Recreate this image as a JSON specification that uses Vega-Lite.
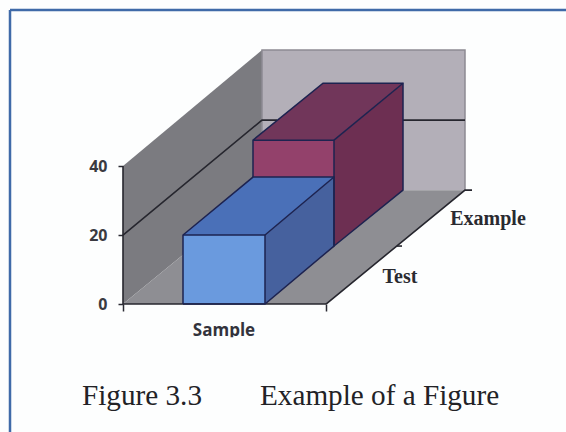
{"$schema":"https://vega.github.io/schema/vega-lite/v6.json","width":566,"height":432,"padding":0,"autosize":{"type":"none"},"background":"#fdfefe","view":{"stroke":null},
"config":{"axis":{"grid":false,"title":null}},
"datasets":{"faces":[
{"face":"left wall","o":1,"x":123,"y":40},{"face":"left wall","o":2,"x":262,"y":73.6},{"face":"left wall","o":3,"x":262,"y":33},{"face":"left wall","o":4,"x":123,"y":0},
{"face":"back wall","o":1,"x":262,"y":73.6},{"face":"back wall","o":2,"x":465,"y":73.6},{"face":"back wall","o":3,"x":465,"y":33},{"face":"back wall","o":4,"x":262,"y":33},
{"face":"floor","o":1,"x":123,"y":0},{"face":"floor","o":2,"x":262,"y":33},{"face":"floor","o":3,"x":465,"y":33},{"face":"floor","o":4,"x":326,"y":0},
{"face":"example top","o":1,"x":253,"y":47.5},{"face":"example top","o":2,"x":323,"y":64},{"face":"example top","o":3,"x":403,"y":64},{"face":"example top","o":4,"x":334,"y":47.5},
{"face":"example side","o":1,"x":334,"y":47.5},{"face":"example side","o":2,"x":403,"y":64},{"face":"example side","o":3,"x":403,"y":33},{"face":"example side","o":4,"x":334,"y":16.8},
{"face":"example front","o":1,"x":253,"y":36.8},{"face":"example front","o":2,"x":253,"y":47.5},{"face":"example front","o":3,"x":334,"y":47.5},{"face":"example front","o":4,"x":334,"y":36.8},
{"face":"sample top","o":1,"x":183,"y":20},{"face":"sample top","o":2,"x":253,"y":36.8},{"face":"sample top","o":3,"x":334,"y":36.8},{"face":"sample top","o":4,"x":265,"y":20},
{"face":"sample side","o":1,"x":265,"y":20},{"face":"sample side","o":2,"x":334,"y":36.8},{"face":"sample side","o":3,"x":334,"y":16.8},{"face":"sample side","o":4,"x":265,"y":0},
{"face":"sample front","o":1,"x":183,"y":0},{"face":"sample front","o":2,"x":183,"y":20},{"face":"sample front","o":3,"x":265,"y":20},{"face":"sample front","o":4,"x":265,"y":0}
]},
"layer":[
{"data":{"name":"faces"},"mark":{"type":"line","filled":true,"interpolate":"linear-closed","strokeWidth":0},
"encoding":{"x":{"field":"x","type":"quantitative","scale":{"domain":[0,566],"nice":false,"zero":false},"axis":{"values":[123,326],"labels":false,"domain":false,"orient":"bottom","offset":-128,"tickColor":"#2a2a33","tickSize":7,"tickWidth":1.5}},
"y":{"field":"y","type":"quantitative","scale":{"domain":[-37.1,88.12],"nice":false,"zero":false},"axis":{"values":[0,20,40],"orient":"left","offset":-123,"domain":false,"tickColor":"#2a2a33","tickSize":5,"tickWidth":1.5,"labelFont":"Open Sans","labelFontWeight":"bold","labelFontSize":16,"labelColor":"#3a3a40","labelPadding":11}},
"order":{"field":"o","type":"quantitative"},"detail":{"field":"face"},
"color":{"field":"face","type":"nominal","legend":null,"scale":{"domain":["left wall","back wall","floor","example top","example side","example front","sample top","sample side","sample front"],"range":["#7b7b80","#b3afb8","#8e8e93","#71365a","#6d2f52","#93416b","#4a70b8","#46619e","#6a9ade"]}}}},
{"data":{"values":[
{"line":"wall edge","o":1,"x":262,"y":49.6},{"line":"wall edge","o":2,"x":262,"y":73.6},{"line":"wall edge","o":3,"x":465,"y":73.6},{"line":"wall edge","o":4,"x":465,"y":33}
]},"mark":{"type":"line","color":"#8d8b92","strokeWidth":1.5},
"encoding":{"x":{"field":"x","type":"quantitative"},"y":{"field":"y","type":"quantitative"},"order":{"field":"o","type":"quantitative"},"detail":{"field":"line"}}},
{"data":{"values":[
{"line":"grid20","o":1,"x":123,"y":20},{"line":"grid20","o":2,"x":262,"y":53.3},{"line":"grid20","o":3,"x":277,"y":53.3},
{"line":"grid20b","o":1,"x":403,"y":53.3},{"line":"grid20b","o":2,"x":465,"y":53.3},
{"line":"y axis","o":1,"x":123,"y":40},{"line":"y axis","o":2,"x":123,"y":0},
{"line":"x axis","o":1,"x":123,"y":0},{"line":"x axis","o":2,"x":326,"y":0},
{"line":"z axis","o":1,"x":326,"y":0},{"line":"z axis","o":2,"x":465,"y":33},{"line":"z axis","o":3,"x":472,"y":33},
{"line":"z tick","o":1,"x":397,"y":16.8},{"line":"z tick","o":2,"x":402,"y":16.8}
]},"mark":{"type":"line","color":"#26262e","strokeWidth":1.6},
"encoding":{"x":{"field":"x","type":"quantitative"},"y":{"field":"y","type":"quantitative"},"order":{"field":"o","type":"quantitative"},"detail":{"field":"line"}}},
{"data":{"values":[
{"box":"example","o":1,"x":253,"y":36.8},{"box":"example","o":2,"x":253,"y":47.5},{"box":"example","o":3,"x":323,"y":64},{"box":"example","o":4,"x":403,"y":64},{"box":"example","o":5,"x":403,"y":33},{"box":"example","o":6,"x":334,"y":16.8},{"box":"example","o":7,"x":334,"y":47.5},{"box":"example","o":8,"x":253,"y":47.5},
{"box":"example2","o":1,"x":334,"y":47.5},{"box":"example2","o":2,"x":403,"y":64},
{"box":"sample","o":1,"x":183,"y":0},{"box":"sample","o":2,"x":183,"y":20},{"box":"sample","o":3,"x":253,"y":36.8},{"box":"sample","o":4,"x":334,"y":36.8},{"box":"sample","o":5,"x":334,"y":16.8},{"box":"sample","o":6,"x":265,"y":0},{"box":"sample","o":7,"x":183,"y":0},
{"box":"sample2","o":1,"x":183,"y":20},{"box":"sample2","o":2,"x":265,"y":20},{"box":"sample2","o":3,"x":265,"y":0},
{"box":"sample3","o":1,"x":265,"y":20},{"box":"sample3","o":2,"x":334,"y":36.8}
]},"mark":{"type":"line","color":"#1d2350","strokeWidth":1.5},
"encoding":{"x":{"field":"x","type":"quantitative"},"y":{"field":"y","type":"quantitative"},"order":{"field":"o","type":"quantitative"},"detail":{"field":"box"}}},
{"data":{"values":[
{"t":"Test","x":400,"y":7.8},{"t":"Example","x":488,"y":24.6}
]},"mark":{"type":"text","font":"Liberation Serif","fontWeight":"bold","fontSize":20,"color":"#2a2a30"},
"encoding":{"x":{"field":"x","type":"quantitative"},"y":{"field":"y","type":"quantitative"},"text":{"field":"t"}}},
{"data":{"values":[
{"t":"Sample","x":224,"y":-7.8}
]},"mark":{"type":"text","font":"Open Sans","fontWeight":"bold","fontSize":17,"color":"#33333c"},
"encoding":{"x":{"field":"x","type":"quantitative"},"y":{"field":"y","type":"quantitative"},"text":{"field":"t"}}},
{"data":{"values":[
{"x":185,"x2":265,"y":-9.6,"y2":-12}
]},"mark":{"type":"rect","color":"#fdfefe"},
"encoding":{"x":{"field":"x","type":"quantitative"},"x2":{"field":"x2"},"y":{"field":"y","type":"quantitative"},"y2":{"field":"y2"}}},
{"data":{"values":[
{"t":"Figure 3.3","x":82,"y":-26.8},{"t":"Example of a Figure","x":260,"y":-26.8}
]},"mark":{"type":"text","font":"Liberation Serif","fontSize":29.2,"align":"left","color":"#222226"},
"encoding":{"x":{"field":"x","type":"quantitative"},"y":{"field":"y","type":"quantitative"},"text":{"field":"t"}}},
{"data":{"values":[
{"e":"top","o":1,"x":10,"y":85.2},{"e":"top","o":2,"x":566,"y":85.2},
{"e":"left","o":1,"x":10,"y":85.2},{"e":"left","o":2,"x":10,"y":-37.1}
]},"mark":{"type":"line","color":"#3f6aa8","strokeWidth":2.5},
"encoding":{"x":{"field":"x","type":"quantitative"},"y":{"field":"y","type":"quantitative"},"order":{"field":"o","type":"quantitative"},"detail":{"field":"e"}}}
]}
